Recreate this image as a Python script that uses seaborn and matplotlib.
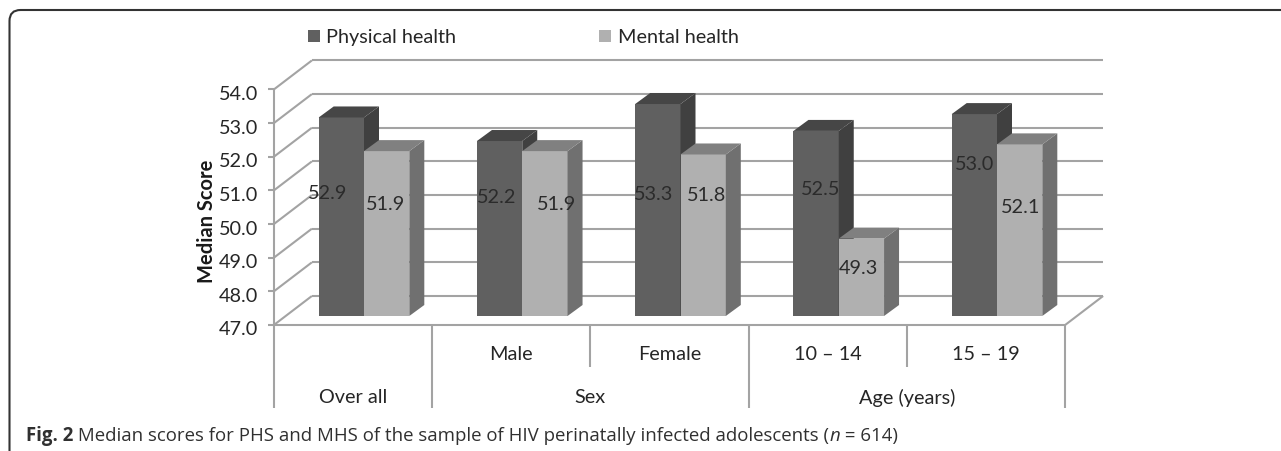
"""
Median PHS / MHS scores, pseudo-3D clustered bars on a seaborn barplot.
"""
import pandas as pd
import matplotlib
matplotlib.use('Agg')
import matplotlib.pyplot as plt
import seaborn as sns
from matplotlib.patches import Polygon, FancyBboxPatch
from matplotlib.transforms import IdentityTransform

groups = ['Over all', 'Male', 'Female', '10 – 14', '15 – 19']
physical = [52.9, 52.2, 53.3, 52.5, 53.0]
mental = [51.9, 51.9, 51.8, 49.3, 52.1]
y_ticks = [47, 48, 49, 50, 51, 52, 53, 54]
outer_labels = ['Over all', 'Sex', 'Age (years)']

W, H = 1281, 451
UX, UY = 158.25, 33.65          # pixels per category / per score point
BAR_X0, BAR_Y0 = 364, 316       # pixel of first category centre, score 47
BASE = 47
FS = 14.3

sns.set_theme(style='white')
plt.rcParams['font.family'] = ['Lato', 'DejaVu Sans']

fig = plt.figure(figsize=(W / 100, H / 100), dpi=100)
ax = fig.add_axes([0, 0, 1, 1])

df = pd.DataFrame({
    'group': groups * 2,
    'score': physical + mental,
    'series': ['Physical health'] * 5 + ['Mental health'] * 5,
})
front = {'Physical health': '#606060', 'Mental health': '#b0b0b0'}
top_c = {'Physical health': '#464646', 'Mental health': '#808080'}
side_c = {'Physical health': '#404040', 'Mental health': '#707070'}

sns.barplot(data=df, x='group', y='score', hue='series', order=groups,
            palette=front, saturation=1, width=0.5725, gap=0, errorbar=None,
            linewidth=0, ax=ax)

ax.set_xlim(-BAR_X0 / UX, (W - BAR_X0) / UX)
ax.set_ylim(BASE - (H - BAR_Y0) / UY, BASE + BAR_Y0 / UY)
ax.axis('off')


def on_plane(x, y, dx_px, dy_px):
    return x + dx_px / UX, y + dy_px / UY


def front_pt(x, y):
    return on_plane(x, y, -11, -9)


def back_pt(x, y):
    return on_plane(x, y, 27, 20)


# bars start at 47, side and top faces come from each bar's own rectangle
DX, DY = 15 / UX, 11 / UY
names = ['Physical health', 'Mental health']
for i, cont in enumerate(ax.containers):
    name = names[i]
    for bar in cont:
        val = bar.get_height()
        bar.set_y(BASE)
        bar.set_height(val - BASE)
        bar.set_zorder(3 + i)
        x0, x1 = bar.get_x(), bar.get_x() + bar.get_width()
        ax.add_patch(Polygon([(x1, BASE), (x1 + DX, BASE + DY), (x1 + DX, val + DY), (x1, val)],
                             facecolor=side_c[name], edgecolor='none', zorder=3 + i))
        ax.add_patch(Polygon([(x0, val), (x0 + DX, val + DY), (x1 + DX, val + DY), (x1, val)],
                             facecolor=top_c[name], edgecolor='none', zorder=3 + i))

# walls and floor
line_kw = dict(color='#a3a3a3', lw=1.5, solid_capstyle='butt', zorder=1)
L, R = -0.5, 4.5
for v in y_ticks:
    ax.plot(*zip(back_pt(L, v), back_pt(R, v)), **line_kw)
    ax.plot(*zip(front_pt(L, v), back_pt(L, v)), **line_kw)
    tick_x, tick_y = front_pt(L, v)
    ax.plot([tick_x - 6 / UX, tick_x], [tick_y, tick_y], **line_kw)
    ax.text(tick_x - 16 / UX, tick_y - 5 / UY, f'{v:.1f}', ha='right', va='center',
            fontsize=FS, color='#262626')
ax.plot(*zip(front_pt(L, BASE), front_pt(L, 54)), **line_kw)
ax.plot(*zip(front_pt(L, BASE), front_pt(R, BASE)), **line_kw)
ax.plot(*zip(front_pt(R, BASE), back_pt(R, BASE)), **line_kw)

# two-level category axis below the floor
tall_edges = [-0.5, 0.5, 2.5, 4.5]
short_edges = [1.5, 3.5]
for e in tall_edges:
    x, y = front_pt(e, BASE)
    ax.plot([x, x], [y, y - 83 / UY], **line_kw)
for e in short_edges:
    x, y = front_pt(e, BASE)
    ax.plot([x, x], [y, y - 42 / UY], **line_kw)
for i, g in enumerate(groups):
    if i == 0:
        continue
    x, y = front_pt(i, BASE)
    ax.text(x, y - 30 / UY, g, ha='center', va='center', fontsize=FS, color='#262626')
for centre, label in zip([0, 1.5, 3.5], outer_labels):
    x, y = front_pt(centre, BASE)
    ax.text(x, y - 73 / UY, label, ha='center', va='center', fontsize=FS, color='#262626')

# value labels sit where the original chart left them: x shift from bar centre, pixel row
phys_dx = [-14, -3, -4, 5, 0]
phys_row = [194, 198, 195, 190, 165]
ment_dx = [-1, 12, 3, -3, 1]
ment_row = [205, 205, 196, 269, 208]
for cont, vals, dxs, rows in zip(ax.containers, [physical, mental],
                                 [phys_dx, ment_dx], [phys_row, ment_row]):
    for bar, v, sx, row in zip(cont, vals, dxs, rows):
        ax.text(bar.get_x() + bar.get_width() / 2 + sx / UX, BASE + (BAR_Y0 - row) / UY,
                f'{v:.1f}', ha='center', va='center', fontsize=FS, color='#2b2b2b', zorder=6)

fig.text(207 / W, 1 - 221 / H, 'Median Score', rotation=90, ha='center', va='center',
         fontsize=14.5, fontweight='bold', color='#1a1a1a')

sns.move_legend(ax, 'upper left', bbox_to_anchor=(308 / W, 1 - 29 / H),
                bbox_transform=fig.transFigure, ncol=2, title=None, frameon=False,
                fontsize=FS, handlelength=0.6, handleheight=0.6, handletextpad=0.32,
                columnspacing=7.2, borderpad=0, borderaxespad=0, labelcolor='#262626')

# panel frame, open to the right and at the bottom
fig.add_artist(FancyBboxPatch((9.5, -40), W + 60, H - 10 + 40,
                              boxstyle='round,pad=0,rounding_size=11',
                              transform=IdentityTransform(), facecolor='none',
                              edgecolor='#333333', lw=1.5))

# caption, pieces placed one after the other
fig.canvas.draw()
renderer = fig.canvas.get_renderer()
pieces = [('Fig. 2', dict(fontweight='bold')),
          (' Median scores for PHS and MHS of the sample of HIV perinatally infected adolescents (', {}),
          ('n', dict(style='italic')),
          (' = 614)', {})]
cx = 26
for s, kw in pieces:
    t = fig.text(cx / W, 1 - 441 / H, s.replace(' ', '\u00a0'), family='Open Sans', fontsize=13.4,
                 color='#303030', va='baseline', ha='left', **kw)
    cx = t.get_window_extent(renderer).x1

fig.savefig('out.png', dpi=100, facecolor='white')
